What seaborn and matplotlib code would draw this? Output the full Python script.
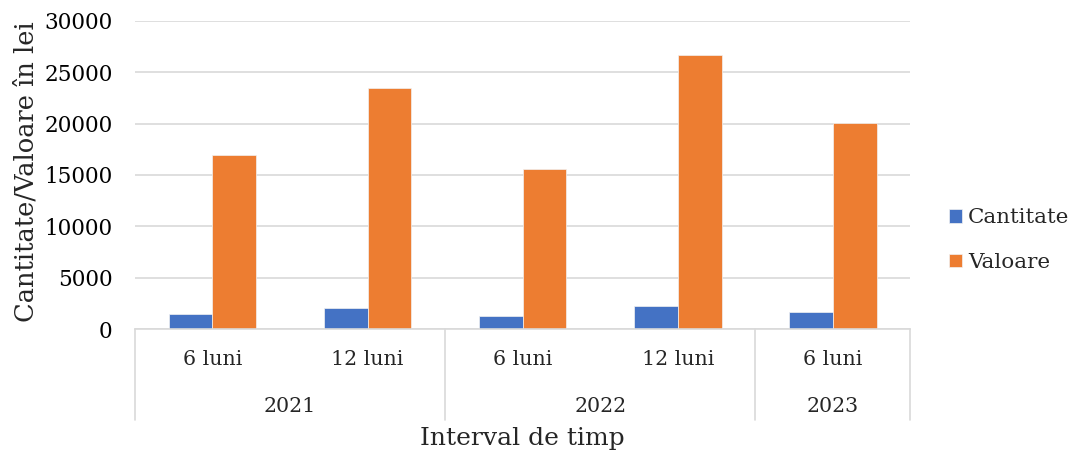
import matplotlib
matplotlib.use("Agg")
import matplotlib.pyplot as plt
from matplotlib.transforms import blended_transform_factory
import seaborn as sns
import pandas as pd

# Data
periods = ["6 luni", "12 luni", "6 luni", "12 luni", "6 luni"]
years = ["2021", "2021", "2022", "2022", "2023"]
cantitate = [1430, 2050, 1270, 2210, 1690]
valoare = [16960, 23450, 15570, 26730, 20050]
series_names = ["Cantitate", "Valoare"]
colors = ["#4472C4", "#ED7D31"]
yticks = [0, 5000, 10000, 15000, 20000, 25000, 30000]

sns.set_theme(style="white")
plt.rcParams["font.family"] = ["DejaVu Serif"]

slots = [f"{y} {p}" for y, p in zip(years, periods)]
df = pd.DataFrame({
    "slot": slots * 2,
    "serie": [series_names[0]] * len(slots) + [series_names[1]] * len(slots),
    "val": cantitate + valoare,
})

fig = plt.figure(figsize=(10.71, 4.53), dpi=100)
ax = fig.add_axes([0.126, 0.2737, 0.724, 0.68])

sns.barplot(data=df, x="slot", y="val", hue="serie", order=slots,
            hue_order=series_names, palette=colors, saturation=1, width=0.565,
            edgecolor="#f2f2f2", linewidth=0.5, ax=ax, legend=True)

ax.set_xlim(-0.5, len(slots) - 0.5)
ax.set_ylim(0, 30000)
ax.set_yticks(yticks)
ax.set_yticklabels([str(t) for t in yticks])
ax.yaxis.grid(True, color="#D9D9D9", linewidth=1.2)
ax.set_axisbelow(True)
for s in ["top", "right", "left"]:
    ax.spines[s].set_visible(False)
ax.spines["bottom"].set_color("#D9D9D9")
ax.spines["bottom"].set_linewidth(1.2)
ax.tick_params(axis="y", length=0, pad=16, labelsize=15.5, colors="black")
ax.set_xticks([])
ax.set_xlabel("")
ax.set_ylabel("Cantitate/Valoare în lei", fontsize=18.5)
ax.yaxis.set_label_coords(-0.124, 0.51)

# Two-level category axis
tr = blended_transform_factory(ax.transData, ax.transAxes)
for i, p in enumerate(periods):
    ax.text(i, -0.10, p, transform=tr, ha="center", va="center", fontsize=14.8)

# year groups (contiguous runs)
bounds = [-0.5]
groups = []
start = 0
for i in range(1, len(years) + 1):
    if i == len(years) or years[i] != years[start]:
        groups.append((years[start], start, i - 1))
        bounds.append(i - 0.5)
        start = i
for label, a, b in groups:
    ax.text((a + b) / 2, -0.253, label, transform=tr, ha="center", va="center", fontsize=14.8)
for x in bounds:
    ax.plot([x, x], [0, -0.295], transform=tr, color="#D9D9D9", lw=1.2, clip_on=False)

ax.text(0.5, -0.354, "Interval de timp", transform=ax.transAxes,
        ha="center", va="center", fontsize=18)

# Legend on the right
handles, labels = ax.get_legend_handles_labels()
ax.legend_.remove()
fig.legend(handles, labels, loc="center left", bbox_to_anchor=(0.886, 0.47),
           frameon=False, fontsize=15.4, handlelength=0.6, handleheight=0.6,
           handletextpad=0.3, labelspacing=1.2, borderaxespad=0, borderpad=0)

fig.savefig("out.png", dpi=100)
